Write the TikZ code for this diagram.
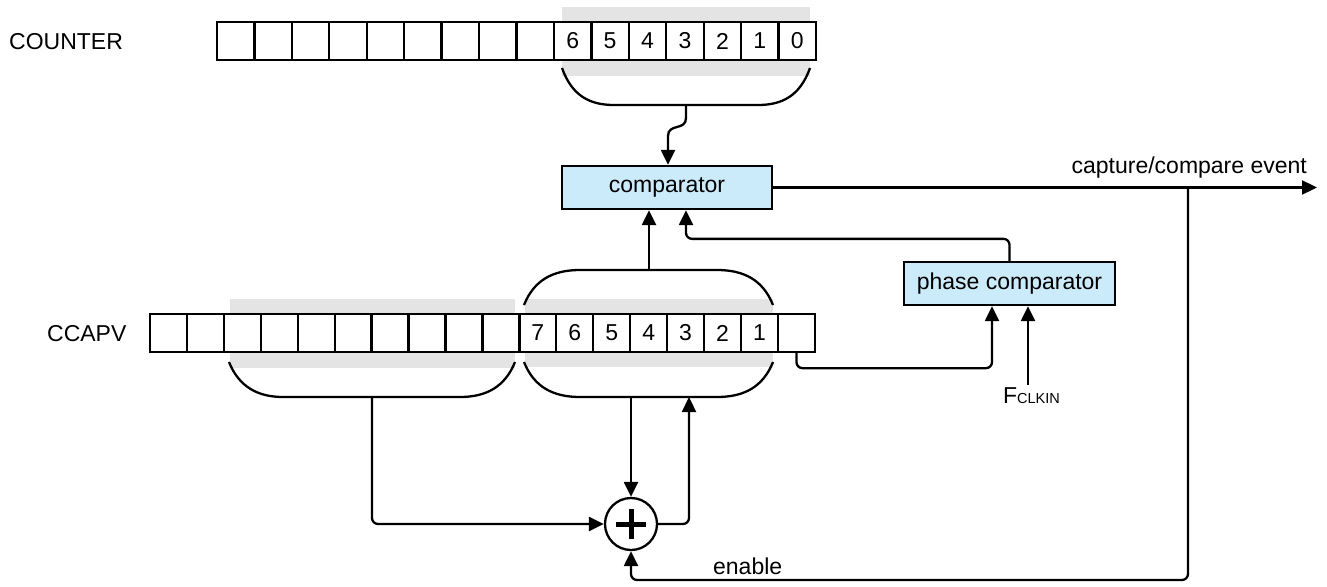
\documentclass[tikz,border=0pt]{standalone}
\usepackage{fontspec}
\setmainfont{Liberation Sans}
\usetikzlibrary{arrows.meta}
\definecolor{boxblue}{RGB}{204,235,250}
\definecolor{hlgray}{RGB}{228,228,228}
\begin{document}
\begin{tikzpicture}[x=1pt,y=-1pt,line width=2.3pt,
  every node/.style={font=\fontsize{23}{27}\selectfont},
  cell/.style={draw,fill=white,minimum width=37.44pt,minimum height=38pt,inner sep=0pt},
  rcell/.style={draw,fill=white,minimum width=36.94pt,minimum height=38pt,inner sep=0pt},
  block/.style={draw,fill=boxblue,minimum height=43pt,inner sep=0pt},
  arr/.style={-{Triangle[length=15pt,width=14pt]}},
  conn/.style={rounded corners=6pt},
  hl/.style={fill=hlgray,draw=none}]
\useasboundingbox (0,0) rectangle (1327,586);
% highlights
\fill[hlgray] (562,7) rectangle (810,76);
\fill[hlgray] (230,299) rectangle (515,368);
\fill[hlgray] (525,299) rectangle (773,367);
% labels
\node[anchor=base west,inner sep=0] (lcounter) at (8,49) {COUNTER};
\node[anchor=base west,inner sep=0] (lccapv) at (46,341) {CCAPV};
% COUNTER register
\foreach \i in {0,...,15}{
  \pgfmathtruncatemacro\lab{15-\i}
  \ifnum\i>8
    \node[cell] (c\i) at (217+18.72+\i*37.44,41) {\lab};
  \else
    \node[cell] (c\i) at (217+18.72+\i*37.44,41) {};
  \fi
}
% CCAPV register
\foreach \i in {0,...,17}{
  \pgfmathtruncatemacro\lab{17-\i}
  \ifnum\i>9
    \ifnum\i<17
      \node[rcell] (r\i) at (150+18.47+\i*36.94,333) {\lab};
    \else
      \node[rcell] (r\i) at (150+18.47+\i*36.94,333) {};
    \fi
  \else
    \node[rcell] (r\i) at (150+18.47+\i*36.94,333) {};
  \fi
}
% blocks
\node[block,minimum width=210pt] (comp) at (667,187.5) {comparator};
\node[block,minimum width=211pt] (pc) at (1009.5,283.5) {phase comparator};
\node[draw,circle,minimum size=52pt,inner sep=0pt,fill=white] (add) at (631,524) {};
\draw[line width=5pt] ([xshift=-15pt]add.center) -- ([xshift=15pt]add.center)
  ([yshift=-15pt]add.center) -- ([yshift=15pt]add.center);
% brackets
\coordinate (cbM) at (686,105);
\draw (562,68) .. controls (572,96) and (590,105) .. (614,105) -- (758,105)
  .. controls (782,105) and (800,96) .. (810,68);
\coordinate (ctop) at (649,270);
\draw (524,305) .. controls (534,280) and (553,270) .. (580,270) -- (717,270)
  .. controls (744,270) and (763,280) .. (773,305);
\coordinate (cbotL) at (631,397);
\coordinate (cbotR) at (689,397);
\draw (524,362) .. controls (534,387) and (553,397) .. (580,397) -- (717,397)
  .. controls (744,397) and (763,387) .. (773,362);
\coordinate (lbM) at (372,397);
\draw (229,362) .. controls (239,387) and (258,397) .. (283,397) -- (460,397)
  .. controls (486,397) and (505,387) .. (515,362);
% connectors
\draw[arr] (cbM) -- (686,118) .. controls (686,131) and (668,123) .. (668,136) -- ([xshift=1pt]comp.north);
\draw[arr] (ctop) -- ([xshift=-18pt]comp.south);
\draw[arr,conn] (pc.north) -- ++(0,-22) -| ([xshift=19pt]comp.south);
\coordinate (capend) at (1317,187.5);
\draw[arr] (comp.east) -- (capend);
\node[anchor=base east,inner sep=0] (lcap) at (1308,173) {capture/compare event};
\coordinate (tap) at (1188,187.5);
\coordinate (bot) at (1188,580);
\draw[arr,conn] (tap) -- (bot) -| (add.south);
\node[anchor=base west,inner sep=0] (len) at (712,574) {enable};
\draw[arr,conn] (lbM) |- (add.west);
\draw[arr] (cbotL) -- (add.north);
\draw[arr,conn] (add.east) -| (cbotR);
\draw[arr,conn] (r17.south) -- ++(0,15) -| ([xshift=-17.5pt]pc.south);
\coordinate (fk) at (1028,385);
\draw[arr] (fk) -- ([xshift=18.5pt]pc.south);
\node[anchor=base west,inner sep=0] (lf) at (1002,403) {F\fontsize{14.5}{15}\selectfont CLKIN};
\end{tikzpicture}
\end{document}
